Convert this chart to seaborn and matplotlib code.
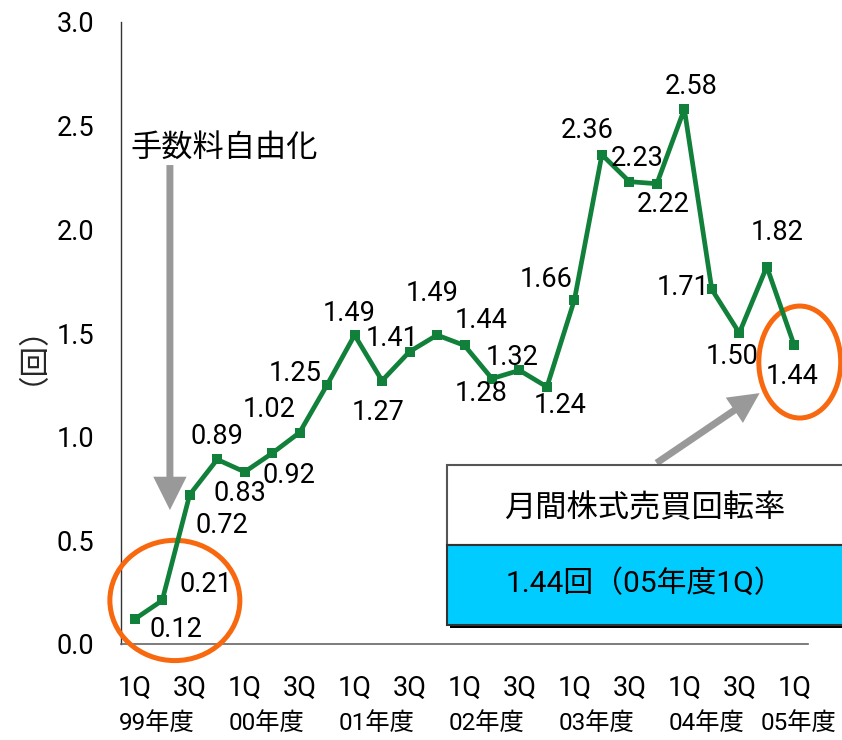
import numpy as np
import pandas as pd
import matplotlib
matplotlib.use('Agg')
import matplotlib.pyplot as plt
import seaborn as sns
from matplotlib.patches import Ellipse, Rectangle

# データ（月間株式売買回転率、四半期ごと）
years = ['99年度', '00年度', '01年度', '02年度', '03年度', '04年度', '05年度']
quarter_names = ['1Q', '2Q', '3Q', '4Q']
quarters = [y + q for y in years[:-1] for q in quarter_names] + ['05年度1Q']
turnover = [0.12, 0.21, 0.72, 0.89, 0.83, 0.92, 1.02, 1.25,
            1.49, 1.27, 1.41, 1.49, 1.44, 1.28, 1.32, 1.24,
            1.66, 2.36, 2.23, 2.22, 2.58, 1.71, 1.50, 1.82, 1.44]
tick_labels = ['1Q', '3Q'] * 6 + ['1Q']

# ラベルの位置（ピクセル、右・下が正）
label_offsets = [(41, 10), (44, -16), (32, 31), (0, -23), (-5, 22), (17, 22),
                 (-30, -23), (-32, -11), (-5, -22), (-4, 32), (-17, -13), (-5, -42),
                 (17, -25), (-11, 15), (-7, -13), (13, 19), (-28, -20), (-15, -24),
                 (8, -23), (6, 21), (7, -23), (-29, -2), (-7, 23), (10, -34), (-2, 31)]

green = '#11803A'
orange = '#F8680F'
grey = '#999999'

sns.set_theme(style='white')
plt.rcParams['font.family'] = ['Roboto', 'Noto Sans CJK JP', 'DejaVu Sans']
plt.rcParams['text.color'] = 'black'
plt.rcParams['ytick.color'] = 'black'

fig = plt.figure(figsize=(8.42, 7.4), dpi=100)
ax = fig.add_axes([121 / 842, 1 - 644 / 740, 687 / 842, 622 / 740])

df = pd.DataFrame({'quarter': quarters, 'turnover': turnover})
sns.lineplot(data=df, x='quarter', y='turnover', ax=ax, sort=False,
             color=green, linewidth=3.4, marker='s', markersize=6.5,
             markeredgewidth=0, zorder=4)

ax.set_xlim(-0.5, len(quarters) - 0.5)
ax.set_ylim(0, 3)
ax.set_yticks(np.arange(0, 3.01, 0.5))
ax.set_yticklabels([f'{v:.1f}' for v in np.arange(0, 3.01, 0.5)], fontsize=19.5)
ax.tick_params(axis='y', length=0, pad=19)
ax.set_xticks(np.arange(-0.5, len(quarters), 1))
ax.set_xticklabels([])
ax.tick_params(axis='x', direction='in', length=7, width=1, color='#555555')
ax.set_xlabel('')
ax.set_ylabel('（回）', fontsize=22, rotation=90)
ax.yaxis.set_label_coords(-0.132, 0.49)

for side in ['top', 'right']:
    ax.spines[side].set_visible(False)
ax.spines['left'].set_color('#333333')
ax.spines['left'].set_linewidth(1)
ax.spines['bottom'].set_color('#666666')
ax.spines['bottom'].set_linewidth(1.2)

# 四半期と年度ラベル
for i, lab in zip(range(0, len(quarters), 2), tick_labels):
    ax.annotate(lab, xy=(i, 0), xycoords=('data', 'axes fraction'),
                xytext=(0, -44 * 0.72), textcoords='offset points',
                ha='center', va='center', fontsize=19.5, annotation_clip=False)
for k, yr in enumerate(years):
    xpos = 4 * k + 0.81 if k < len(years) - 1 else 4 * k + 0.15
    ax.annotate(yr, xy=(xpos, 0), xycoords=('data', 'axes fraction'),
                xytext=(0, -79 * 0.72), textcoords='offset points',
                ha='center', va='center', fontsize=17.5, annotation_clip=False)

# データラベル
for i, (v, (dx, dy)) in enumerate(zip(turnover, label_offsets)):
    ax.annotate(f'{v:.2f}', xy=(i, v), xytext=(dx * 0.72, -dy * 0.72),
                textcoords='offset points', ha='center', va='center',
                fontsize=19.5, zorder=6, annotation_clip=False)

# 丸印
ax.add_patch(Ellipse((1.46, 0.21), 4.73, 0.58, fill=False, ec=orange, lw=3.6,
                     clip_on=False, zorder=3))
ax.add_patch(Ellipse((24.2, 1.36), 2.98, 0.54, fill=False, ec=orange, lw=3.6,
                     clip_on=False, zorder=3))

# 矢印
ax.annotate('', xy=(1.28, 0.646), xytext=(1.28, 2.31),
            arrowprops=dict(facecolor=grey, edgecolor='none', width=5,
                            headwidth=24, headlength=24, shrink=0))
ax.text(-0.17, 2.39, '手数料自由化', fontsize=22.5, ha='left', va='center')
ax.annotate('', xy=(22.74, 1.21), xytext=(18.99, 0.873),
            arrowprops=dict(facecolor=grey, edgecolor='none', width=5,
                            headwidth=22, headlength=22, shrink=0))

# 凡例ボックス
def fx(px):
    return px / 842


def fy(px):
    return 1 - px / 740


fig.patches.append(Rectangle((fx(450), fy(628)), fx(400), fy(468) - fy(628),
                             transform=fig.transFigure, fc='black', ec='none', zorder=8))
fig.patches.append(Rectangle((fx(447), fy(545)), fx(400), fy(465) - fy(545),
                             transform=fig.transFigure, fc='white', ec='#555555',
                             lw=1.5, zorder=9))
fig.patches.append(Rectangle((fx(447), fy(625)), fx(400), fy(545) - fy(625),
                             transform=fig.transFigure, fc='#00CCFF', ec='#333333',
                             lw=1.5, zorder=9))
fig.text(fx(645), fy(508), '月間株式売買回転率', fontsize=22.5, ha='center', va='center', zorder=10)
fig.text(fx(645), fy(583), '1.44回（05年度1Q）', fontsize=21.5, ha='center', va='center', zorder=10)

fig.savefig('out.png', dpi=100)
